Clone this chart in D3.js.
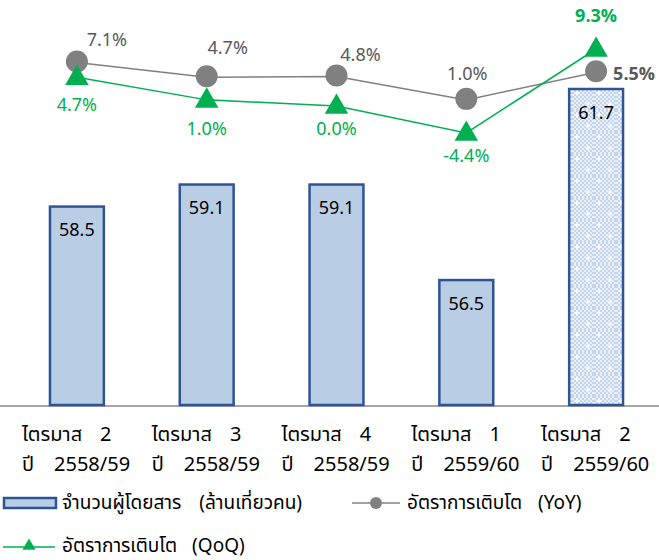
<!DOCTYPE html>
<html><head><meta charset="utf-8">
<script src="https://cdn.jsdelivr.net/npm/d3@7"></script>
<style>
html,body{margin:0;padding:0;background:#fff;}
text{font-family:Tahoma,"Leelawadee UI","Noto Sans Thai","Noto Sans","DejaVu Sans",sans-serif;white-space:pre;}
</style></head>
<body>
<svg id="chart" width="659" height="560"></svg>
<script>
const quarterWord = ["ไตรมาส","ไตรมาส","ไตรมาส","ไตรมาส","ไตรมาส"];
const quarterNum = ["2","3","4","1","2"];
const yearWord = ["ปี","ปี","ปี","ปี","ปี"];
const yearNum = ["2558/59","2558/59","2558/59","2559/60","2559/60"];
const passengers = [58.5, 59.1, 59.1, 56.5, 61.7];
const yoy = [7.1, 4.7, 4.8, 1.0, 5.5];
const qoq = [4.7, 1.0, 0.0, -4.4, 9.3];
const legendMain = ["จำนวนผู้โดยสาร", "อัตราการเติบโต", "อัตราการเติบโต"];
const legendSub = ["(ล้านเที่ยวคน)", "(YoY)", "(QoQ)"];

// label placement (layout)
const yoyLabelOffsets = [[30,-22],[21,-29],[24,-21],[1,-25],[38,2]];
const qoqLabelOffsets = [[0,28],[0,30],[0,23],[0,24],[0,-33]];

const svg = d3.select("#chart");
const W = 659, H = 560;

const x = d3.scalePoint().domain(d3.range(passengers.length)).range([12, 661]).padding(0.5);
const step = x.step();
const barW = step * 0.415;
const yBar = d3.scaleLinear().domain([53.1, 61.7]).range([405, 89]);
const yPct = d3.scaleLinear().domain([0, 9.3]).range([106, 49]);

// pattern for last bar
const defs = svg.append("defs");
const pat = defs.append("pattern").attr("id","dots").attr("patternUnits","userSpaceOnUse").attr("width",4).attr("height",4);
pat.append("rect").attr("width",4).attr("height",4).attr("fill","#e8eff8");
pat.append("rect").attr("width",2).attr("height",2).attr("fill","#c3d5ec");
pat.append("rect").attr("x",2).attr("y",2).attr("width",2).attr("height",2).attr("fill","#c3d5ec");
const pat2 = defs.append("pattern").attr("id","sparkle").attr("patternUnits","userSpaceOnUse").attr("width",22).attr("height",22);
pat2.append("rect").attr("width",22).attr("height",22).attr("fill","url(#dots)");
[[5,5],[16,16]].forEach(([cx,cy])=>{
  pat2.append("path").attr("d",`M${cx-3.5},${cy}L${cx},${cy-1}L${cx+3.5},${cy}L${cx},${cy+1}Z M${cx},${cy-3.5}L${cx+1},${cy}L${cx},${cy+3.5}L${cx-1},${cy}Z`).attr("fill","#ffffff");
});

// baseline
svg.append("line").attr("x1",0).attr("x2",W).attr("y1",yBar(53.1)+1).attr("y2",yBar(53.1)+1)
  .attr("stroke","#a6a6a6").attr("stroke-width",2);

// bars
svg.append("g").selectAll("rect").data(passengers).join("rect")
  .attr("x",(d,i)=>x(i)-barW/2)
  .attr("y",d=>yBar(d))
  .attr("width",barW)
  .attr("height",d=>yBar(53.1)-yBar(d))
  .attr("fill",(d,i)=>i===passengers.length-1?"url(#sparkle)":"#b9cde5")
  .attr("stroke","#2f5496").attr("stroke-width",2.5);

svg.append("g").selectAll("text").data(passengers).join("text")
  .attr("x",(d,i)=>x(i)).attr("y",d=>yBar(d)+24)
  .attr("text-anchor","middle").attr("dominant-baseline","central")
  .attr("font-size",18).attr("fill","#000").text(d=>d.toFixed(1));

// lines
const lineY = d3.line().x((d,i)=>x(i)).y(d=>yPct(d));
svg.append("path").datum(yoy).attr("d",lineY).attr("fill","none").attr("stroke","#808080").attr("stroke-width",1.5);
svg.append("path").datum(qoq).attr("d",lineY).attr("fill","none").attr("stroke","#00b050").attr("stroke-width",1.5);

// markers
svg.append("g").selectAll("circle").data(yoy).join("circle")
  .attr("cx",(d,i)=>x(i)).attr("cy",d=>yPct(d)-1).attr("r",11).attr("fill","#808080");
const tri = d3.symbol().type(d3.symbolTriangle).size(240);
svg.append("g").selectAll("path").data(qoq).join("path")
  .attr("d",tri).attr("transform",(d,i)=>`translate(${x(i)},${yPct(d)+1})`).attr("fill","#00b050");

// point labels
svg.append("g").selectAll("text").data(yoy).join("text")
  .attr("x",(d,i)=>x(i)+yoyLabelOffsets[i][0]).attr("y",(d,i)=>yPct(d)+yoyLabelOffsets[i][1])
  .attr("text-anchor","middle").attr("dominant-baseline","central")
  .attr("font-size",18).attr("fill","#595959")
  .attr("font-weight",(d,i)=>i===yoy.length-1?"bold":"normal")
  .text(d=>d.toFixed(1)+"%");
svg.append("g").selectAll("text").data(qoq).join("text")
  .attr("x",(d,i)=>x(i)+qoqLabelOffsets[i][0]).attr("y",(d,i)=>yPct(d)+qoqLabelOffsets[i][1])
  .attr("text-anchor","middle").attr("dominant-baseline","central")
  .attr("font-size",18).attr("fill","#00b050")
  .attr("font-weight",(d,i)=>i===qoq.length-1?"bold":"normal")
  .text(d=>d.toFixed(1)+"%");

// category labels (two lines)
const cat = svg.append("g");
const c1 = cat.selectAll("text.l1").data(quarterWord).join("text").attr("class","l1")
  .attr("x",(d,i)=>x(i)-55).attr("y",441).attr("font-size",20).attr("fill","#000");
c1.append("tspan").text(d=>d);
c1.append("tspan").attr("dx",18).text((d,i)=>quarterNum[i]);
const c2 = cat.selectAll("text.l2").data(yearWord).join("text").attr("class","l2")
  .attr("x",(d,i)=>x(i)-55).attr("y",471).attr("font-size",20).attr("fill","#000");
c2.append("tspan").text(d=>d);
c2.append("tspan").attr("dx",20).text((d,i)=>yearNum[i]);

// legend
const lg = svg.append("g");
lg.append("rect").attr("x",4).attr("y",498).attr("width",52).attr("height",10)
  .attr("fill","#b9cde5").attr("stroke","#2f5496").attr("stroke-width",2.5);
lg.append("line").attr("x1",352).attr("x2",400).attr("y1",503).attr("y2",503).attr("stroke","#808080").attr("stroke-width",1.5);
lg.append("circle").attr("cx",376).attr("cy",503).attr("r",6).attr("fill","#808080");
lg.append("line").attr("x1",3).attr("x2",55).attr("y1",547).attr("y2",547).attr("stroke","#00b050").attr("stroke-width",1.5);
lg.append("path").attr("d",d3.symbol().type(d3.symbolTriangle).size(75)).attr("transform","translate(29,546)").attr("fill","#00b050");
const legPos = [[62,503,18],[407,503,16],[62,546,15]];
legendMain.forEach((t,i)=>{
  const tx = lg.append("text").attr("x",legPos[i][0]).attr("y",legPos[i][1]).attr("dominant-baseline","central")
    .attr("font-size",19).attr("fill","#000");
  tx.append("tspan").text(t);
  tx.append("tspan").attr("dx",legPos[i][2]).text(legendSub[i]);
});
</script>
</body></html>
